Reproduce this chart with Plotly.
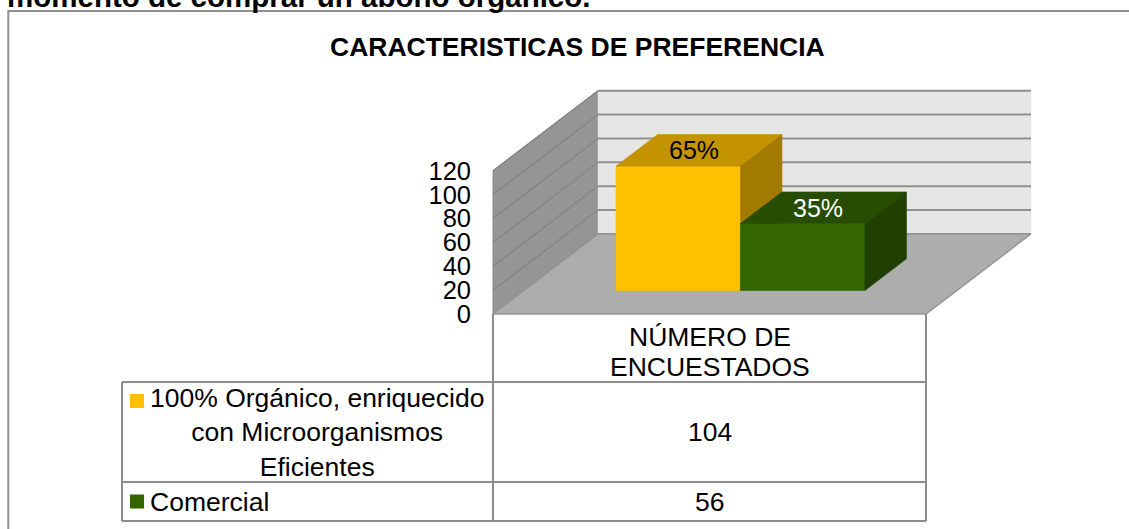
import plotly.graph_objects as go

# ---------------- data ----------------
page_heading = "momento de comprar un abono orgánico."
chart_title = "CARACTERISTICAS DE PREFERENCIA"
category_label = "NÚMERO DE<br>ENCUESTADOS"
series_names = ["100% Orgánico, enriquecido<br>con Microorganismos<br>Eficientes", "Comercial"]
series_values = [104, 56]
y_ticks = [0, 20, 40, 60, 80, 100, 120]

# ---------------- styles ----------------
front_colors = ["#FFC000", "#336600"]
top_colors = ["#C49300", "#264D00"]
side_colors = ["#A37A00", "#1F4000"]
pct_colors = ["black", "white"]
FONT = "Liberation Sans, Arial, sans-serif"

W, H = 1129, 529

# layout geometry (screen pixels)
Y0_PIX = 314.0          # screen row of value 0 on the front plane
K = 1.194               # pixels per value unit
X_LEFT, X_RIGHT = 493.0, 926.0   # front edge of the category slot
XD = 472.0              # left edge of the plot area (y tick labels end here)
UX = X_RIGHT - X_LEFT   # pixels per category unit
DEPTH_DX, DEPTH_DY = 105.0, 80.0
DXu = DEPTH_DX / UX
DYu = DEPTH_DY / K
BAR_W = 0.2875
D0, D1 = 0.295, 0.69
ymax = y_ticks[-1]


def P(x, v, d):
    return x + d * DXu, v + d * DYu


def poly(pts, fill, line=None, lw=0.6):
    xs = [p[0] for p in pts] + [pts[0][0]]
    ys = [p[1] for p in pts] + [pts[0][1]]
    return go.Scatter(x=xs, y=ys, mode="lines", fill="toself", fillcolor=fill,
                      line=dict(color=line or fill, width=lw), hoverinfo="skip",
                      showlegend=False)


def seg(pts, color, width):
    return go.Scatter(x=[p[0] for p in pts], y=[p[1] for p in pts], mode="lines",
                      line=dict(color=color, width=width), hoverinfo="skip",
                      showlegend=False)


fig = go.Figure()

# walls and floor
fig.add_trace(poly([P(-0.5, 0, 0), P(-0.5, 0, 1), P(-0.5, ymax, 1), P(-0.5, ymax, 0)],
                   "#959595", "#8A8A8A", 1))
fig.add_trace(poly([P(-0.5, 0, 1), P(0.5, 0, 1), P(0.5, ymax, 1), P(-0.5, ymax, 1)],
                   "#E6E6E6", "#E6E6E6", 0.5))
for t in y_ticks:
    fig.add_trace(seg([P(-0.5, t, 0), P(-0.5, t, 1)], "#828282", 1.2))
    fig.add_trace(seg([P(-0.5, t, 1), P(0.5, t, 1)], "#8F8F8F", 2))
fig.add_trace(poly([P(-0.5, 0, 0), P(0.5, 0, 0), P(0.5, 0, 1), P(-0.5, 0, 1)],
                   "#ADADAD", "#959595", 1.5))

# bars
total = sum(series_values)
n = len(series_values)
start = -0.5 + (1 - n * BAR_W) / 2
for s, v in enumerate(series_values):
    x0 = start + s * BAR_W
    x1 = x0 + BAR_W
    fig.add_trace(poly([P(x0, 0, D0), P(x1, 0, D0), P(x1, v, D0), P(x0, v, D0)], front_colors[s]))
    fig.add_trace(poly([P(x0, v, D0), P(x1, v, D0), P(x1, v, D1), P(x0, v, D1)], top_colors[s]))
    fig.add_trace(poly([P(x1, 0, D0), P(x1, 0, D1), P(x1, v, D1), P(x1, v, D0)], side_colors[s]))
    cx, cy = P((x0 + x1) / 2, v, (D0 + D1) / 2)
    fig.add_annotation(x=cx, y=cy, xref="x", yref="y", text=f"{round(100 * v / total)}%",
                       showarrow=False, xshift=-5,
                       font=dict(family=FONT, size=25, color=pct_colors[s]))


# ---------------- table (paper coords from screen pixels) ----------------
def px(x):
    return x / W


def py(y):
    return 1 - y / H


TBL_L, TBL_C, TBL_R = 122, X_LEFT, X_RIGHT
ROW_TOP = [Y0_PIX, 382, 482]
ROW_BOT = 521
LINE_H = 29.5
GRID = "#8C8C8C"
TFS = 26.5
shapes = []


def hline(x0, x1, y):
    shapes.append(dict(type="line", xref="paper", yref="paper", x0=px(x0), x1=px(x1),
                       y0=py(y), y1=py(y), line=dict(color=GRID, width=2)))


def vline(x, y0, y1):
    shapes.append(dict(type="line", xref="paper", yref="paper", x0=px(x), x1=px(x),
                       y0=py(y0), y1=py(y1), line=dict(color=GRID, width=2)))


hline(TBL_L, TBL_R, ROW_TOP[1])
hline(TBL_L, TBL_R, ROW_TOP[2])
hline(TBL_L, TBL_R, ROW_BOT)
vline(TBL_C, Y0_PIX, ROW_BOT)
vline(TBL_R, Y0_PIX, ROW_BOT)
vline(TBL_L, ROW_TOP[1], ROW_BOT)

# outer chart border
shapes.append(dict(type="rect", xref="paper", yref="paper", x0=px(8.3), x1=px(W + 20),
                   y0=py(11), y1=py(H + 20), line=dict(color="#8F8F8F", width=2)))

tcx = (TBL_C + TBL_R) / 2


def add_lines(text, xc, yc):
    lines = text.split("<br>")
    top = yc - (len(lines) - 1) * LINE_H / 2
    for i, ln in enumerate(lines):
        fig.add_annotation(x=px(xc), y=py(top + i * LINE_H), xref="paper", yref="paper",
                           text=ln, showarrow=False, xanchor="center", yanchor="middle",
                           font=dict(family=FONT, size=TFS, color="black"))


add_lines(category_label, tcx, (Y0_PIX + ROW_TOP[1]) / 2 + 4)
row_bounds = [(ROW_TOP[1], ROW_TOP[2]), (ROW_TOP[2], ROW_BOT)]
for s, name in enumerate(series_names):
    ya, yb = row_bounds[s]
    yc = (ya + yb) / 2
    fig.add_annotation(x=px(148), y=py(yc), xref="paper", yref="paper", text=name,
                       showarrow=False, xanchor="left", yanchor="middle", align="center",
                       font=dict(family=FONT, size=TFS, color="black"))
    add_lines(str(series_values[s]), tcx, yc)
    nlines = len(name.split("<br>"))
    ysw = yc - (nlines - 1) * 31 / 2
    shapes.append(dict(type="rect", xref="paper", yref="paper", x0=px(130), x1=px(144),
                       y0=py(ysw - 7), y1=py(ysw + 7), line=dict(width=0),
                       fillcolor=front_colors[s]))

# title & heading
fig.add_annotation(x=px(577), y=py(47), xref="paper", yref="paper", text=f"<b>{chart_title}</b>",
                   showarrow=False, xanchor="center", yanchor="middle",
                   font=dict(family=FONT, size=26.5, color="black"))
fig.add_annotation(x=px(5), y=py(-3), xref="paper", yref="paper", text=f"<b>{page_heading}</b>",
                   showarrow=False, xanchor="left", yanchor="middle",
                   font=dict(family=FONT, size=29.5, color="black"))

fig.update_layout(
    width=W, height=H, margin=dict(l=0, r=0, t=0, b=0),
    paper_bgcolor="white", plot_bgcolor="rgba(0,0,0,0)",
    showlegend=False, shapes=shapes, hovermode=False,
    xaxis=dict(domain=[XD / W, 1],
               range=[-0.5 - (X_LEFT - XD) / UX, 0.5 + (W - X_RIGHT) / UX],
               visible=False, fixedrange=True),
    yaxis=dict(range=[(Y0_PIX - H) / K, Y0_PIX / K], tickvals=y_ticks,
               showgrid=False, zeroline=False, showline=False, ticks="", fixedrange=True,
               tickfont=dict(family=FONT, size=25.5, color="black")),
)

fig.write_html("out.html", config={"displayModeBar": False},
               post_script="document.body.style.margin='0px';")
